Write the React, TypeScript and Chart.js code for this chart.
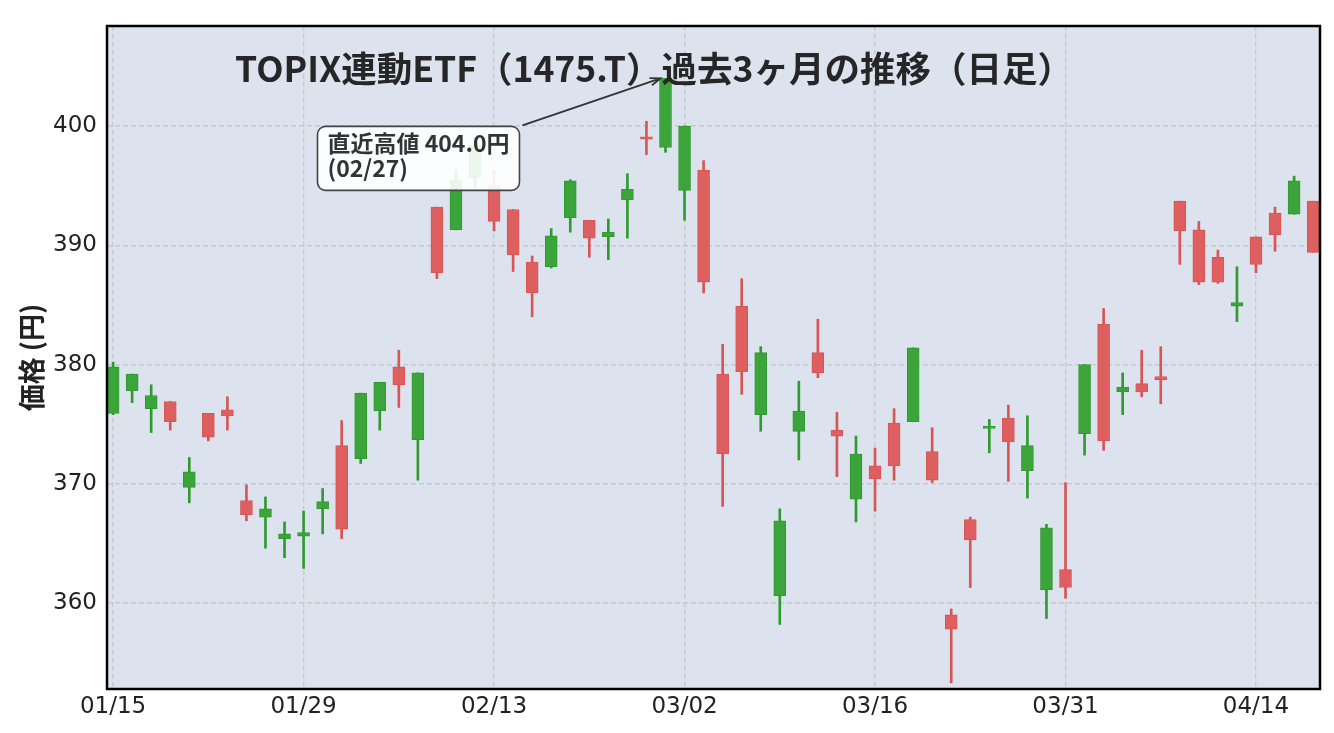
import { useEffect, useRef } from 'react';
import Chart from 'chart.js/auto';

// trading days (x axis categories)
const DATES = [
  '01/15', '01/16', '01/19', '01/20', '01/21', '01/22', '01/23', '01/26', '01/27', '01/28',
  '01/29', '01/30', '02/02', '02/03', '02/04', '02/05', '02/06', '02/09', '02/10', '02/12',
  '02/13', '02/16', '02/17', '02/18', '02/19', '02/20', '02/24', '02/25', '02/26', '02/27',
  '03/02', '03/03', '03/04', '03/05', '03/06', '03/09', '03/10', '03/11', '03/12', '03/13',
  '03/16', '03/17', '03/18', '03/19', '03/23', '03/24', '03/25', '03/26', '03/27', '03/30',
  '03/31', '04/01', '04/02', '04/03', '04/06', '04/07', '04/08', '04/09', '04/10', '04/13',
  '04/14', '04/15', '04/16', '04/17',
];

const OPEN = [
  375.9, 377.8, 376.3, 376.9, 369.7, 375.9, 376.2, 368.6, 367.2, 365.4,
  365.6, 367.9, 373.2, 372.1, 376.1, 379.8, 373.7, 393.2, 391.3, 395.7,
  395.0, 393.0, 388.6, 388.2, 392.3, 392.1, 390.7, 393.8, 399.1, 398.2,
  394.6, 396.3, 379.2, 384.9, 375.8, 360.6, 374.4, 381.0, 374.5, 368.7,
  371.5, 375.1, 375.2, 372.7, 359.0, 367.0, 374.65, 375.5, 371.1, 361.1,
  362.8, 374.2, 383.4, 377.7, 378.4, 379.0, 393.7, 391.3, 389.0, 384.9,
  390.7, 392.7, 392.6, 393.7,
];
const HIGH = [
  380.2, 379.2, 378.3, 376.9, 372.2, 375.9, 377.3, 369.9, 368.9, 366.8,
  367.7, 369.6, 375.3, 377.6, 378.5, 381.2, 379.3, 393.2, 396.3, 399.0,
  396.3, 393.0, 389.1, 391.4, 395.5, 392.1, 392.2, 396.0, 400.4, 404.0,
  400.0, 397.1, 381.7, 387.2, 381.5, 367.9, 378.6, 383.8, 376.0, 374.0,
  373.0, 376.3, 381.4, 374.7, 359.5, 367.2, 375.4, 376.6, 375.7, 366.6,
  370.1, 380.0, 384.7, 379.3, 381.2, 381.5, 393.7, 392.0, 389.6, 388.2,
  390.7, 393.2, 395.8, 393.7,
];
const LOW = [
  375.8, 376.8, 374.3, 374.5, 368.4, 373.6, 374.5, 366.9, 364.6, 363.8,
  362.9, 365.8, 365.4, 371.7, 374.5, 376.4, 370.3, 387.2, 391.3, 394.8,
  391.2, 387.8, 384.0, 388.1, 391.1, 389.0, 388.8, 390.6, 397.6, 397.8,
  392.1, 386.0, 368.1, 377.5, 374.4, 358.2, 372.0, 378.9, 370.6, 366.8,
  367.7, 370.3, 375.2, 370.1, 353.3, 361.3, 372.6, 370.2, 368.8, 358.7,
  360.4, 372.4, 372.8, 375.8, 377.3, 376.7, 388.4, 386.7, 386.8, 383.6,
  387.7, 389.5, 392.6, 389.4,
];
const CLOSE = [
  379.8, 379.2, 377.4, 375.2, 371.0, 373.9, 375.7, 367.4, 367.9, 365.8,
  365.9, 368.5, 366.2, 377.6, 378.5, 378.3, 379.3, 387.7, 395.5, 398.4,
  392.0, 389.2, 386.0, 390.8, 395.4, 390.6, 391.1, 394.7, 398.9, 404.0,
  400.0, 386.9, 372.5, 379.4, 381.0, 366.9, 376.1, 379.3, 374.0, 372.5,
  370.4, 371.5, 381.4, 370.3, 357.8, 365.3, 374.8, 373.5, 373.2, 366.3,
  361.3, 380.0, 373.6, 378.1, 377.7, 378.7, 391.2, 386.9, 386.9, 385.2,
  388.4, 390.9, 395.4, 389.4,
];

const X_TICKS = [0, 10, 20, 30, 40, 50, 60];
const Y_TICKS = [360, 370, 380, 390, 400];

const TITLE = 'TOPIX連動ETF（1475.T）過去3ヶ月の推移（日足）';
const NOTE_LINES = ['直近高値 404.0円', '(02/27)'];

const UP_FILL = '#3ba53b';
const UP_EDGE = '#2f9a2f';
const DOWN_FILL = '#dd5f5f';
const DOWN_EDGE = '#d85555';
const JP = '"Noto Sans CJK JP", "Noto Sans", sans-serif';

export default function App() {
  const canvasRef = useRef<HTMLCanvasElement>(null);

  useEffect(() => {
    document.body.style.margin = '0';
    const ctx = canvasRef.current?.getContext('2d');
    if (!ctx) return;

    const up = OPEN.map((o, i) => CLOSE[i] >= o);
    const peak = HIGH.indexOf(Math.max(...HIGH));

    const framePlugin = {
      id: 'frame',
      beforeDraw(chart: any) {
        const { ctx: c, chartArea: a } = chart;
        c.save();
        c.fillStyle = '#dde3ee';
        c.fillRect(a.left, a.top, a.right - a.left, a.bottom - a.top);
        c.restore();
      },
      afterDatasetsDraw(chart: any) {
        const { ctx: c, chartArea: a, scales } = chart;
        c.save();
        // title inside the plot
        c.fillStyle = '#262626';
        c.font = `bold 35.5px ${JP}`;
        c.textAlign = 'center';
        c.textBaseline = 'alphabetic';
        c.fillText(TITLE, a.left + 547, a.top + 56);

        // annotation
        const tx = scales.x.getPixelForValue(peak) - 5;
        const ty = scales.y.getPixelForValue(HIGH[peak]);
        c.font = `bold 23px ${JP}`;
        const w = Math.max(...NOTE_LINES.map(l => c.measureText(l).width)) + 20;
        const bx = tx - 343;
        const by = ty + 48;
        const h = 64;
        c.beginPath();
        c.roundRect(bx, by, w, h, 8);
        c.fillStyle = 'rgba(255,255,255,0.9)';
        c.fill();
        c.lineWidth = 1.6;
        c.strokeStyle = '#444';
        c.stroke();
        c.fillStyle = '#333';
        c.textAlign = 'left';
        NOTE_LINES.forEach((l, i) => c.fillText(l, bx + 10, by + 26 + i * 25));

        // arrow
        const sx = bx + w + 3;
        const sy = by - 1;
        const ang = Math.atan2(ty - sy, tx - sx);
        c.beginPath();
        c.moveTo(sx, sy);
        c.lineTo(tx, ty);
        c.moveTo(tx - 11 * Math.cos(ang - 0.35), ty - 11 * Math.sin(ang - 0.35));
        c.lineTo(tx, ty);
        c.lineTo(tx - 11 * Math.cos(ang + 0.35), ty - 11 * Math.sin(ang + 0.35));
        c.strokeStyle = '#333';
        c.lineWidth = 1.8;
        c.stroke();
        c.restore();
      },
      afterDraw(chart: any) {
        const { ctx: c, chartArea: a } = chart;
        c.save();
        c.strokeStyle = '#000';
        c.lineWidth = 2.5;
        c.strokeRect(a.left, a.top, a.right - a.left, a.bottom - a.top);
        c.restore();
      },
    };

    const grid = { color: '#c7c9cd', lineWidth: 1.4, drawTicks: false, offset: false };
    const border = { display: false, dash: [5, 3] };
    const tickFont = { family: '"DejaVu Sans", sans-serif', size: 23 };

    const chart = new Chart(ctx, {
      type: 'bar',
      data: {
        datasets: [
          {
            label: 'body',
            data: OPEN.map((o, i) => ({ x: i, y: [Math.min(o, CLOSE[i]), Math.max(o, CLOSE[i])] })) as any,
            backgroundColor: up.map(u => (u ? UP_FILL : DOWN_FILL)),
            borderColor: up.map(u => (u ? UP_EDGE : DOWN_EDGE)),
            borderWidth: 1,
            borderSkipped: false,
            barThickness: 12,
            minBarLength: 2,
            grouped: false,
            order: 0,
          },
          {
            label: 'wick',
            data: LOW.map((l, i) => ({ x: i, y: [l, HIGH[i]] })) as any,
            backgroundColor: up.map(u => (u ? UP_EDGE : DOWN_EDGE)),
            barThickness: 2,
            grouped: false,
            order: 1,
          },
        ],
      },
      options: {
        animation: false,
        responsive: true,
        maintainAspectRatio: false,
        layout: { padding: { top: 26, right: 14, left: 0, bottom: 0 } },
        plugins: { legend: { display: false }, tooltip: { enabled: false } },
        scales: {
          x: {
            type: 'linear',
            min: -0.32,
            max: 63.36,
            offset: false,
            afterBuildTicks: (s: any) => { s.ticks = X_TICKS.map(v => ({ value: v })); },
            afterFit: (s: any) => { s.height = 44; },
            ticks: {
              callback: (v: any) => DATES[v],
              font: tickFont,
              color: '#222',
              padding: 4,
              maxRotation: 0,
              autoSkip: false,
            },
            grid,
            border,
          },
          y: {
            min: 352.79,
            max: 408.39,
            afterBuildTicks: (s: any) => { s.ticks = Y_TICKS.map(v => ({ value: v })); },
            afterFit: (s: any) => { s.width = 107; },
            ticks: { font: tickFont, color: '#222', padding: 10 },
            title: {
              display: true,
              text: '価格 (円)',
              font: { family: JP, size: 27, weight: 'bold' },
              color: '#222',
              padding: { top: 16, bottom: 0 },
            },
            grid,
            border,
          },
        },
      },
      plugins: [framePlugin],
    });

    return () => chart.destroy();
  }, []);

  return (
    <div style={{ width: 1334, height: 733, position: 'relative', background: '#fff' }}>
      <canvas ref={canvasRef} />
    </div>
  );
}
